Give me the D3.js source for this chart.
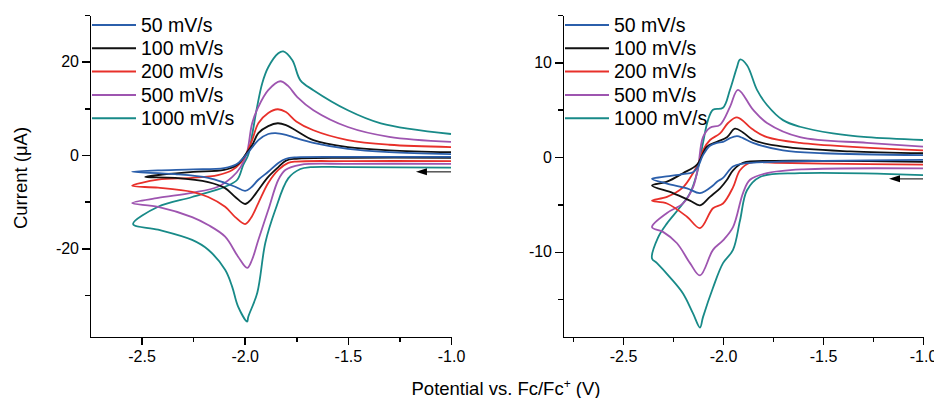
<!DOCTYPE html>
<meta charset="utf-8">
<style>
body { margin: 0; background: #fff; }
svg { font-family: "Liberation Sans", Arial, sans-serif; }
.axis path, .axis line { stroke: #000; stroke-width: 1.5px; shape-rendering: crispEdges; }
.axis text { font-size: 16px; fill: #000; }
.cv { fill: none; stroke-width: 1.8px; stroke-linejoin: round; }
.legend text { font-size: 19.5px; }
.title { font-size: 18.5px; }
</style>
<body>
<script src="https://cdn.jsdelivr.net/npm/d3@7"></script>
<script>

var width = 934,
    height = 398;

var rates = ["50 mV/s", "100 mV/s", "200 mV/s", "500 mV/s", "1000 mV/s"];
var colors = ["#2b5fab", "#111111", "#e8302a", "#9e55b0", "#188a88"];

// left panel: [potential (V), current (uA)], cathodic sweep from -1.0 then back
var left50 = [[-1.0,-0.4],[-1.5,-0.4],[-1.75,-0.5],[-1.8,-0.8],[-1.837,-1.7],[-1.886,-3.6],[-1.934,-5.3],[-1.97,-7.0],[-1.998,-7.7],[-2.046,-6.8],[-2.095,-6.0],[-2.177,-4.9],[-2.337,-4.1],[-2.546,-3.6],
  [-2.42,-3.3],[-2.25,-3.1],[-2.1,-2.8],[-2.04,-2.0],[-2.01,-0.8],[-1.99,0.2],[-1.964,1.6],[-1.934,3.2],[-1.886,4.5],[-1.85,4.7],[-1.8,4.3],[-1.75,3.6],[-1.667,2.6],[-1.5,1.3],[-1.3,0.6],[-1.0,0.2]];
var left100 = [[-1.0,-0.6],[-1.5,-0.6],[-1.75,-0.8],[-1.8,-1.2],[-1.837,-2.6],[-1.886,-4.7],[-1.934,-7.5],[-1.97,-9.6],[-1.998,-10.5],[-2.046,-9.0],[-2.095,-7.1],[-2.177,-5.8],[-2.337,-4.9],[-2.483,-4.7],
  [-2.4,-4.2],[-2.25,-3.6],[-2.1,-3.2],[-2.04,-2.2],[-2.01,-0.8],[-1.99,0.5],[-1.964,2.1],[-1.934,4.7],[-1.886,6.2],[-1.84,6.8],[-1.8,6.4],[-1.75,5.2],[-1.667,3.2],[-1.5,1.7],[-1.3,1.0],[-1.0,0.6]];
var left200 = [[-1.0,-1.3],[-1.5,-1.3],[-1.75,-1.4],[-1.789,-1.7],[-1.837,-3.2],[-1.886,-6.0],[-1.934,-10.3],[-1.97,-13.5],[-1.998,-14.8],[-2.046,-13.3],[-2.095,-11.1],[-2.177,-9.0],[-2.255,-7.9],[-2.42,-7.0],[-2.546,-6.6],
  [-2.42,-5.3],[-2.255,-4.9],[-2.13,-4.3],[-2.06,-3.2],[-2.02,-1.7],[-1.99,0.5],[-1.964,3.2],[-1.934,6.8],[-1.886,9.0],[-1.84,9.8],[-1.8,9.2],[-1.75,7.2],[-1.667,5.3],[-1.5,3.2],[-1.3,2.2],[-1.0,1.7]];
var left500 = [[-1.0,-1.9],[-1.5,-1.9],[-1.73,-2.1],[-1.803,-3.2],[-1.837,-5.3],[-1.886,-11.8],[-1.934,-18.2],[-1.965,-22.5],[-1.988,-24.2],[-2.032,-21.8],[-2.095,-17.5],[-2.177,-15.0],[-2.255,-13.3],[-2.42,-11.1],[-2.546,-10.3],
  [-2.42,-9.2],[-2.255,-8.1],[-2.13,-6.8],[-2.06,-4.7],[-2.02,-2.6],[-1.99,0.3],[-1.964,6.8],[-1.934,10.3],[-1.886,13.9],[-1.828,15.8],[-1.79,14.8],[-1.745,12.4],[-1.667,9.6],[-1.5,6.0],[-1.3,3.9],[-1.0,2.8]];
var left1000 = [[-1.0,-2.7],[-1.5,-2.6],[-1.68,-2.6],[-1.73,-3.0],[-1.789,-5.0],[-1.852,-11.8],[-1.9,-18.8],[-1.939,-29.5],[-1.983,-34.7],[-1.988,-35.7],[-2.032,-32.5],[-2.061,-28.2],[-2.095,-24.6],[-2.177,-20.3],[-2.255,-18.2],[-2.42,-16.0],[-2.541,-14.8],
  [-2.42,-11.1],[-2.255,-9.0],[-2.095,-6.8],[-2.036,-5.3],[-2.007,-2.1],[-1.983,0],[-1.964,4.3],[-1.94,10.3],[-1.915,15.4],[-1.886,18.8],[-1.837,21.8],[-1.813,22.2],[-1.769,20.3],[-1.73,16.0],[-1.667,13.9],[-1.5,9.6],[-1.34,6.8],[-1.0,4.5]];

// right panel
var right50 = [[-1.0,-0.3],[-1.5,-0.4],[-1.74,-0.5],[-1.9,-0.7],[-1.95,-1.0],[-2.0,-2.2],[-2.03,-2.6],[-2.05,-3.0],[-2.115,-3.8],[-2.18,-3.3],[-2.28,-2.8],[-2.355,-2.3],
  [-2.3,-2.1],[-2.2,-1.8],[-2.15,-1.6],[-2.125,-1.0],[-2.1,0.2],[-2.065,1.2],[-2.03,1.5],[-2.0,1.6],[-1.965,2.0],[-1.93,2.2],[-1.9,2.0],[-1.85,1.5],[-1.7,0.7],[-1.5,0.4],[-1.0,0.2]];
var right100 = [[-1.0,-0.5],[-1.5,-0.4],[-1.74,-0.4],[-1.9,-0.6],[-1.95,-1.4],[-1.98,-2.4],[-2.015,-3.3],[-2.065,-4.2],[-2.115,-5.1],[-2.165,-4.6],[-2.25,-3.8],[-2.355,-3.0],
  [-2.28,-2.6],[-2.2,-1.7],[-2.13,-0.8],[-2.08,1.1],[-2.03,1.6],[-1.98,2.1],[-1.94,3.0],[-1.9,2.6],[-1.85,1.8],[-1.7,1.1],[-1.365,0.6],[-1.0,0.4]];
var right200 = [[-1.0,-0.8],[-1.5,-0.7],[-1.74,-0.6],[-1.865,-0.6],[-1.915,-1.4],[-1.95,-3.2],[-2.0,-4.9],[-2.05,-5.4],[-2.115,-7.5],[-2.18,-6.3],[-2.28,-4.9],[-2.355,-4.6],
  [-2.28,-4.2],[-2.2,-3.2],[-2.15,-1.7],[-2.115,-0.3],[-2.1,0.7],[-2.065,1.8],[-2.015,2.5],[-1.975,3.6],[-1.93,4.2],[-1.85,2.9],[-1.78,2.1],[-1.615,1.5],[-1.0,0.7]];
var right500 = [[-1.0,-1.2],[-1.6,-1.3],[-1.78,-1.7],[-1.865,-2.4],[-1.9,-3.8],[-1.95,-7.4],[-2.0,-8.8],[-2.05,-9.8],[-2.115,-12.5],[-2.165,-11.2],[-2.23,-9.1],[-2.3,-7.9],[-2.355,-7.4],
  [-2.28,-5.9],[-2.2,-4.9],[-2.15,-3.2],[-2.125,-1.1],[-2.1,2.1],[-2.065,3.1],[-2.015,3.4],[-1.965,5.3],[-1.925,7.1],[-1.85,5.0],[-1.78,3.6],[-1.615,2.1],[-1.28,1.5],[-1.0,1.1]];
var right1000 = [[-1.0,-1.9],[-1.615,-1.7],[-1.815,-2.1],[-1.88,-3.5],[-1.915,-6.7],[-1.95,-9.8],[-2.0,-11.2],[-2.05,-13.8],[-2.1,-16.9],[-2.115,-18.0],[-2.15,-16.5],[-2.2,-14.4],[-2.265,-12.7],[-2.33,-11.2],[-2.355,-10.7],
  [-2.325,-8.5],[-2.28,-7.0],[-2.215,-5.3],[-2.165,-3.8],[-2.13,-1.7],[-2.1,1.5],[-2.075,3.9],[-2.05,5.0],[-2.0,5.2],[-1.965,7.1],[-1.93,9.5],[-1.915,10.3],[-1.88,9.7],[-1.83,7.1],[-1.78,5.5],[-1.7,3.9],[-1.615,3.2],[-1.45,2.5],[-1.28,2.1],[-1.0,1.8]];

var leftXTicks = [-2.5, -2.0, -1.5, -1.0], leftXMinor = [-2.25, -1.75, -1.25];
var leftYTicks = [-20, 0, 20], leftYMinor = [-30, -10, 10, 30];
var rightXTicks = [-2.5, -2.0, -1.5, -1.0], rightXMinor = [-2.75, -2.25, -1.75, -1.25];
var rightYTicks = [-10, 0, 10], rightYMinor = [-15, -5, 5, 15];

var panels = [
  { left: 90, right: 451, top: 15, bottom: 337, xd: [-2.75, -1.0], yd: [-39, 30],
    xt: leftXTicks, xm: leftXMinor, yt: leftYTicks, ym: leftYMinor,
    series: [left50, left100, left200, left500, left1000], arrowY: -3.6 },
  { left: 563, right: 923, top: 15, bottom: 337, xd: [-2.8, -1.0], yd: [-19, 15],
    xt: rightXTicks, xm: rightXMinor, yt: rightYTicks, ym: rightYMinor,
    series: [right50, right100, right200, right500, right1000], arrowY: -2.3 }
];

var svg = d3.select("body").append("svg")
    .attr("width", width)
    .attr("height", height);

// plain hyphen minus like the original
function fmtX(d) { return d3.format(".1f")(d).replace("\u2212", "-"); }
function fmtY(d) { return d3.format("d")(d).replace("\u2212", "-"); }

panels.forEach(function(p) {
  var x = d3.scaleLinear().domain(p.xd).range([p.left, p.right]);
  var y = d3.scaleLinear().domain(p.yd).range([p.bottom, p.top]);

  var g = svg.append("g");

  // curves, fastest scan drawn first
  var line = d3.line()
      .x(function(d) { return x(d[0]); })
      .y(function(d) { return y(d[1]); })
      .curve(d3.curveCatmullRom.alpha(0.5));

  for (var i = p.series.length - 1; i >= 0; i--) {
    g.append("path")
        .attr("class", "cv")
        .attr("stroke", colors[i])
        .attr("d", line(p.series[i]));
  }

  // scan direction arrow
  var ay = y(p.arrowY), ax0 = x(-1.0), ax1 = x(-1.17);
  g.append("line")
      .attr("x1", ax0).attr("x2", ax1 + 6)
      .attr("y1", ay).attr("y2", ay)
      .attr("stroke", "#555").attr("stroke-width", 1.5);
  g.append("path")
      .attr("d", "M" + ax1 + "," + ay + "l11,-3.5v7z")
      .attr("fill", "#000");

  // axes
  g.append("g")
      .attr("class", "axis")
      .attr("transform", "translate(0," + p.bottom + ")")
      .call(d3.axisBottom(x).tickValues(p.xm).tickSize(5).tickSizeOuter(0).tickFormat(""));
  g.append("g")
      .attr("class", "axis")
      .attr("transform", "translate(0," + p.bottom + ")")
      .call(d3.axisBottom(x).tickValues(p.xt).tickSize(8).tickSizeOuter(0).tickPadding(6).tickFormat(fmtX));
  g.append("g")
      .attr("class", "axis")
      .attr("transform", "translate(" + p.left + ",0)")
      .call(d3.axisLeft(y).tickValues(p.ym).tickSize(5).tickSizeOuter(0).tickFormat(""));
  g.append("g")
      .attr("class", "axis")
      .attr("transform", "translate(" + p.left + ",0)")
      .call(d3.axisLeft(y).tickValues(p.yt).tickSize(8).tickSizeOuter(0).tickPadding(3).tickFormat(fmtY));

  // legend
  var lg = g.append("g")
      .attr("class", "legend")
      .attr("transform", "translate(" + (p.left + 2) + ",25)");
  var row = lg.selectAll("g")
    .data(rates)
    .enter().append("g")
      .attr("transform", function(d, i) { return "translate(0," + (i * 23.3) + ")"; });
  row.append("line")
      .attr("x1", 0).attr("x2", 44)
      .attr("stroke", function(d, i) { return colors[i]; })
      .attr("stroke-width", 2);
  row.append("text")
      .attr("x", 49)
      .attr("dy", "0.35em")
      .text(function(d) { return d; });
});

svg.append("text")
    .attr("class", "title")
    .attr("transform", "translate(27,178)rotate(-90)")
    .attr("text-anchor", "middle")
    .text("Current (\u03bcA)");

var xt = svg.append("text")
    .attr("class", "title")
    .attr("x", 506)
    .attr("y", 395)
    .attr("text-anchor", "middle");
xt.append("tspan").text("Potential vs. Fc/Fc");
xt.append("tspan").attr("dy", -7).attr("font-size", "12px").text("+");
xt.append("tspan").attr("dy", 7).text(" (V)");

</script>
